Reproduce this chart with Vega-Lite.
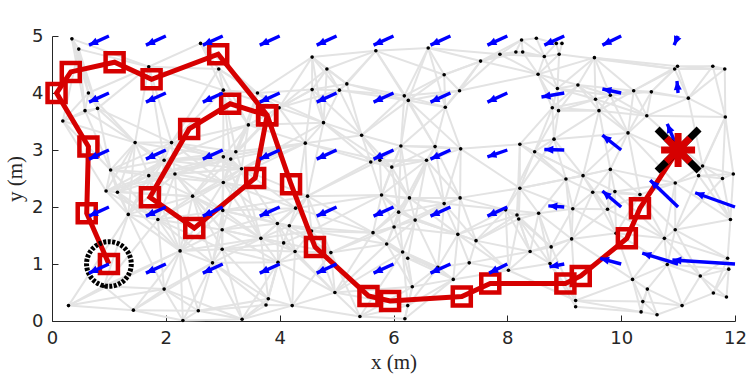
{
"$schema": "https://vega.github.io/schema/vega-lite/v6.json",
"width": 683, "height": 285,
"autosize": {"type": "none"},
"padding": {"left": 52, "top": 36, "right": 12, "bottom": 53},
"background": "white",
"config": {"view": {"stroke": null}},
"datasets": {
"nodes": [
{"id":0,"x":0.35,"y":4.95,"nb":[1,2,3,4,14]},
{"id":1,"x":0.47,"y":4.77,"nb":[2,3,4,5,14]},
{"id":2,"x":0.64,"y":4.0,"nb":[3,4,5,6,14]},
{"id":3,"x":0.58,"y":3.69,"nb":[4,5,6,7]},
{"id":4,"x":0.80,"y":3.73,"nb":[5,6,7,14,18]},
{"id":5,"x":0.19,"y":3.51,"nb":[6,7,8]},
{"id":6,"x":1.46,"y":3.13,"nb":[7,8,9,10,14,15,16,17,18,22]},
{"id":7,"x":1.03,"y":2.65,"nb":[8,9,10,15,16,17,18,23]},
{"id":8,"x":0.95,"y":2.28,"nb":[9,10,15,16,17,23,24]},
{"id":9,"x":1.15,"y":2.26,"nb":[10,15,16,17,23,24,25]},
{"id":10,"x":1.34,"y":1.87,"nb":[11,15,16,17,23,24,25,30]},
{"id":11,"x":0.91,"y":0.61,"nb":[12,13,23,25,30]},
{"id":12,"x":0.29,"y":0.27,"nb":[13,30,25,10]},
{"id":13,"x":1.43,"y":0.19,"nb":[25,26,30,31,32]},
{"id":14,"x":1.70,"y":4.46,"nb":[16,18,19,20,21]},
{"id":15,"x":1.70,"y":2.55,"nb":[16,17,18,22,23,24,25,33,34,36]},
{"id":16,"x":1.97,"y":2.82,"nb":[17,18,22,23,24,33,34,35,36,37]},
{"id":17,"x":2.16,"y":2.58,"nb":[18,22,23,24,25,27,29,33,34,35,36]},
{"id":18,"x":2.10,"y":3.13,"nb":[20,21,22,33,34,35,36,37]},
{"id":19,"x":2.61,"y":4.87,"nb":[20,21,38]},
{"id":20,"x":2.93,"y":4.42,"nb":[21,37,38,39]},
{"id":21,"x":3.01,"y":4.05,"nb":[22,34,35,37,38,39]},
{"id":22,"x":3.01,"y":2.88,"nb":[24,27,29,33,34,35,36,37,41,54]},
{"id":23,"x":1.86,"y":1.78,"nb":[24,25,26,27,28,29,30,33]},
{"id":24,"x":2.47,"y":2.19,"nb":[25,26,27,28,29,33,34,36,54]},
{"id":25,"x":2.25,"y":1.23,"nb":[26,27,28,29,30,31,32,33,54]},
{"id":26,"x":2.82,"y":1.02,"nb":[27,28,29,30,31,32,53,54,58,64,65]},
{"id":27,"x":2.99,"y":1.60,"nb":[28,29,33,36,54,55,57,58,60]},
{"id":28,"x":2.99,"y":1.26,"nb":[29,53,54,57,58,59,64]},
{"id":29,"x":3.0,"y":1.94,"nb":[33,36,40,54,55,56,60]},
{"id":30,"x":1.97,"y":0.56,"nb":[31,32,53]},
{"id":31,"x":2.30,"y":0.01,"nb":[32,53]},
{"id":32,"x":2.57,"y":0.18,"nb":[53,64,65]},
{"id":33,"x":3.01,"y":2.43,"nb":[34,35,36,37,40,41,54,55,60]},
{"id":34,"x":3.14,"y":2.84,"nb":[35,36,37,39,41]},
{"id":35,"x":3.23,"y":2.97,"nb":[36,37,38,39,41]},
{"id":36,"x":3.33,"y":2.67,"nb":[37,40,41,47,54,55,60]},
{"id":37,"x":3.45,"y":3.44,"nb":[38,39,41,44,47]},
{"id":38,"x":3.61,"y":4.0,"nb":[39,42,44,47]},
{"id":39,"x":3.99,"y":3.74,"nb":[41,42,43,44,45,47]},
{"id":40,"x":4.49,"y":2.19,"nb":[41,47,49,51,55,56,60,61,62,68,71]},
{"id":41,"x":4.45,"y":3.12,"nb":[44,47,48,49,51,60]},
{"id":42,"x":4.57,"y":4.63,"nb":[43,44,45,46,47,50]},
{"id":43,"x":4.83,"y":4.42,"nb":[44,45,46,47,50]},
{"id":44,"x":4.57,"y":4.06,"nb":[45,46,47,48]},
{"id":45,"x":5.05,"y":4.05,"nb":[46,47,48,50,75,76]},
{"id":46,"x":5.18,"y":4.16,"nb":[48,50,75,76]},
{"id":47,"x":4.77,"y":3.48,"nb":[48,49,51]},
{"id":48,"x":5.44,"y":3.26,"nb":[49,51,52,75,76,93]},
{"id":49,"x":5.60,"y":2.79,"nb":[51,52,71,93,96]},
{"id":50,"x":5.69,"y":4.74,"nb":[72,73,75,76]},
{"id":51,"x":5.76,"y":2.82,"nb":[52,71,93,96,100]},
{"id":52,"x":5.97,"y":2.70,"nb":[71,93,94,96,100,102]},
{"id":53,"x":3.34,"y":0.03,"nb":[58,64,65,66]},
{"id":54,"x":3.67,"y":1.45,"nb":[55,56,57,58,59,60,61,64]},
{"id":55,"x":3.96,"y":1.71,"nb":[56,57,58,59,60,61,62]},
{"id":56,"x":4.17,"y":1.67,"nb":[57,59,60,61,62,68]},
{"id":57,"x":4.07,"y":1.37,"nb":[58,59,61,62,63,64]},
{"id":58,"x":3.97,"y":1.03,"nb":[59,62,63,64,65,66]},
{"id":59,"x":4.27,"y":1.22,"nb":[61,62,63,66]},
{"id":60,"x":4.28,"y":1.98,"nb":[61,68,71]},
{"id":61,"x":4.56,"y":1.58,"nb":[62,63,68,69,71]},
{"id":62,"x":4.90,"y":1.20,"nb":[63,66,67,68,69,70]},
{"id":63,"x":4.97,"y":0.50,"nb":[66,67,68,69,107,112,113]},
{"id":64,"x":3.80,"y":0.39,"nb":[65,66]},
{"id":65,"x":3.76,"y":0.28,"nb":[66]},
{"id":66,"x":4.22,"y":0.27,"nb":[67]},
{"id":67,"x":5.41,"y":0.08,"nb":[107,112,113,114]},
{"id":68,"x":5.64,"y":1.55,"nb":[69,70,71,100,102,103,107,108]},
{"id":69,"x":5.88,"y":1.35,"nb":[70,102,103,107,108,110,112]},
{"id":70,"x":6.01,"y":1.65,"nb":[71,100,102,103,104,105,107]},
{"id":71,"x":5.79,"y":2.21,"nb":[93,96,100,102,103,104]},
{"id":72,"x":6.61,"y":4.79,"nb":[73,75,76,77,78,79]},
{"id":73,"x":6.89,"y":4.32,"nb":[74,75,76,77,78,79]},
{"id":74,"x":7.16,"y":4.04,"nb":[75,76,77,78,79,88]},
{"id":75,"x":6.19,"y":3.95,"nb":[76,77,93,94]},
{"id":76,"x":6.26,"y":3.87,"nb":[77,93,94,95]},
{"id":77,"x":6.91,"y":3.75,"nb":[78,93,94,95]},
{"id":78,"x":7.53,"y":4.56,"nb":[79,80,81,82,88]},
{"id":79,"x":7.87,"y":4.68,"nb":[80,81,82,86,88]},
{"id":80,"x":8.15,"y":4.72,"nb":[81,82,86]},
{"id":81,"x":8.27,"y":4.72,"nb":[82,86,88]},
{"id":82,"x":8.25,"y":4.93,"nb":[83,86]},
{"id":83,"x":8.51,"y":4.96,"nb":[84,86]},
{"id":84,"x":8.86,"y":4.87,"nb":[85,86,87]},
{"id":85,"x":8.96,"y":4.87,"nb":[87]},
{"id":86,"x":8.65,"y":4.64,"nb":[87,88,89]},
{"id":87,"x":8.91,"y":4.68,"nb":[88,89,132]},
{"id":88,"x":8.54,"y":4.33,"nb":[89,90,91,123,124]},
{"id":89,"x":8.88,"y":4.08,"nb":[90,91,123,124,125,126]},
{"id":90,"x":8.79,"y":3.74,"nb":[91,92,97,98,124,125,127]},
{"id":91,"x":8.90,"y":3.69,"nb":[92,98,124,125,127]},
{"id":92,"x":8.82,"y":3.19,"nb":[97,98,99,127,137,139,140]},
{"id":93,"x":6.13,"y":3.07,"nb":[94,95,96,100,102]},
{"id":94,"x":6.73,"y":3.06,"nb":[95,96,100,101,104]},
{"id":95,"x":7.18,"y":3.02,"nb":[96,97,99,101,104]},
{"id":96,"x":6.58,"y":2.82,"nb":[100,101,102,103,104]},
{"id":97,"x":8.22,"y":3.10,"nb":[98,99,116,139,140]},
{"id":98,"x":8.48,"y":2.97,"nb":[99,115,139,140]},
{"id":99,"x":8.22,"y":2.33,"nb":[101,115,116,117,118,139,140,150]},
{"id":100,"x":6.28,"y":2.16,"nb":[101,102,103,104,105]},
{"id":101,"x":7.17,"y":2.16,"nb":[103,104,105,106,115]},
{"id":102,"x":6.09,"y":1.91,"nb":[103,104,105,107]},
{"id":103,"x":6.38,"y":1.77,"nb":[104,105,106,107,108,110]},
{"id":104,"x":6.89,"y":2.06,"nb":[105,106,110,115]},
{"id":105,"x":7.13,"y":1.52,"nb":[106,109,110,111,115,116,122]},
{"id":106,"x":7.45,"y":1.41,"nb":[109,115,116,117,119,122]},
{"id":107,"x":6.16,"y":1.21,"nb":[108,110,111,112,113]},
{"id":108,"x":6.25,"y":1.10,"nb":[110,111,112]},
{"id":109,"x":7.33,"y":1.02,"nb":[110,111,119,122]},
{"id":110,"x":6.78,"y":0.94,"nb":[111,112,113]},
{"id":111,"x":7.05,"y":0.73,"nb":[112,113,114,122]},
{"id":112,"x":6.33,"y":0.60,"nb":[113,114]},
{"id":113,"x":6.25,"y":0.27,"nb":[114]},
{"id":114,"x":6.20,"y":0.04,"nb":[]},
{"id":115,"x":7.97,"y":1.95,"nb":[116,117,118,119,122]},
{"id":116,"x":8.17,"y":1.86,"nb":[117,118,119,120]},
{"id":117,"x":8.20,"y":1.79,"nb":[118,119,120,121,122]},
{"id":118,"x":8.55,"y":1.89,"nb":[119,120,121,140,149,150]},
{"id":119,"x":8.40,"y":1.22,"nb":[120,121,122,149]},
{"id":120,"x":8.77,"y":1.30,"nb":[121,149,150,153]},
{"id":121,"x":8.75,"y":1.01,"nb":[122,149,153,154]},
{"id":122,"x":8.02,"y":0.89,"nb":[153]},
{"id":123,"x":9.53,"y":4.62,"nb":[124,125,126,128,132,133]},
{"id":124,"x":9.24,"y":4.14,"nb":[125,126,127,128]},
{"id":125,"x":9.55,"y":3.89,"nb":[126,127,128,130,137]},
{"id":126,"x":9.81,"y":3.96,"nb":[127,128,129,130,137]},
{"id":127,"x":9.61,"y":3.69,"nb":[128,130,137,138,139]},
{"id":128,"x":10.22,"y":4.04,"nb":[129,130,131,132,133,137]},
{"id":129,"x":10.53,"y":4.02,"nb":[130,131,132,133,137]},
{"id":130,"x":10.45,"y":3.60,"nb":[131,136,137,141]},
{"id":131,"x":11.18,"y":3.91,"nb":[132,133,134,135,136,141]},
{"id":132,"x":10.94,"y":4.42,"nb":[133,134,135]},
{"id":133,"x":10.99,"y":4.47,"nb":[134]},
{"id":134,"x":11.61,"y":4.47,"nb":[135,136]},
{"id":135,"x":11.82,"y":4.42,"nb":[136]},
{"id":136,"x":11.83,"y":3.58,"nb":[141,142,143,144]},
{"id":137,"x":10.12,"y":3.30,"nb":[138,139,141,147,148]},
{"id":138,"x":9.81,"y":2.66,"nb":[139,140,145,146,147,148,151]},
{"id":139,"x":9.33,"y":2.55,"nb":[140,145,146,150,151]},
{"id":140,"x":9.03,"y":2.49,"nb":[145,149,150]},
{"id":141,"x":11.43,"y":2.72,"nb":[142,143,144,148,168]},
{"id":142,"x":11.36,"y":2.55,"nb":[143,144,148,167,168]},
{"id":143,"x":11.78,"y":2.50,"nb":[144,167,168]},
{"id":144,"x":11.97,"y":2.58,"nb":[168]},
{"id":145,"x":9.50,"y":2.26,"nb":[146,147,149,150,151,169]},
{"id":146,"x":9.89,"y":2.27,"nb":[147,148,151,166,169]},
{"id":147,"x":10.33,"y":2.22,"nb":[148,151,166,167,169]},
{"id":148,"x":10.95,"y":2.42,"nb":[166,167,168]},
{"id":149,"x":9.13,"y":1.44,"nb":[150,151,152,153,169]},
{"id":150,"x":9.15,"y":1.97,"nb":[151,169]},
{"id":151,"x":9.76,"y":1.96,"nb":[166,169]},
{"id":152,"x":10.20,"y":0.73,"nb":[153,155,156,157,165,166,169]},
{"id":153,"x":9.20,"y":0.36,"nb":[154,156,157]},
{"id":154,"x":9.20,"y":0.25,"nb":[157]},
{"id":155,"x":10.46,"y":0.56,"nb":[156,157,158,159,165]},
{"id":156,"x":10.38,"y":0.34,"nb":[157,158,159]},
{"id":157,"x":10.35,"y":0.16,"nb":[158]},
{"id":158,"x":10.63,"y":0.11,"nb":[159]},
{"id":159,"x":11.07,"y":0.27,"nb":[160,164,165]},
{"id":160,"x":11.62,"y":0.49,"nb":[161,162,163,164]},
{"id":161,"x":11.85,"y":0.42,"nb":[163,164]},
{"id":162,"x":11.87,"y":1.10,"nb":[163,164,166,167,168]},
{"id":163,"x":11.89,"y":0.91,"nb":[164,165]},
{"id":164,"x":11.39,"y":0.79,"nb":[165,166,167]},
{"id":165,"x":10.81,"y":0.99,"nb":[166,167,169]},
{"id":166,"x":10.76,"y":1.45,"nb":[167,169]},
{"id":167,"x":10.95,"y":1.60,"nb":[168]},
{"id":168,"x":11.92,"y":1.78,"nb":[]},
{"id":169,"x":9.91,"y":1.54,"nb":[]}
],
"path": [
{"o":1,"x":1.0,"y":1.0},{"o":2,"x":0.61,"y":1.89},{"o":3,"x":0.64,"y":3.06},{"o":4,"x":0.08,"y":4.0},
{"o":5,"x":0.33,"y":4.37},{"o":6,"x":1.10,"y":4.54},{"o":7,"x":1.75,"y":4.24},{"o":8,"x":2.92,"y":4.68},
{"o":9,"x":3.78,"y":3.61},{"o":10,"x":3.57,"y":2.51},{"o":11,"x":2.50,"y":1.63},{"o":12,"x":1.72,"y":2.17},
{"o":13,"x":2.41,"y":3.37},{"o":14,"x":3.13,"y":3.81},{"o":15,"x":3.78,"y":3.61},{"o":16,"x":4.20,"y":2.40},
{"o":17,"x":4.62,"y":1.30},{"o":18,"x":5.56,"y":0.44},{"o":19,"x":5.94,"y":0.35},{"o":20,"x":7.20,"y":0.43},
{"o":21,"x":7.70,"y":0.66},{"o":22,"x":9.02,"y":0.66},{"o":23,"x":9.29,"y":0.79},{"o":24,"x":10.10,"y":1.45},
{"o":25,"x":10.33,"y":1.98},{"o":26,"x":11.0,"y":3.0}
],
"arrows": [
{"tx":1,"ty":5,"x":0.65,"y":4.84},{"tx":2,"ty":5,"x":1.65,"y":4.84},{"tx":3,"ty":5,"x":2.65,"y":4.84},{"tx":4,"ty":5,"x":3.65,"y":4.84},{"tx":5,"ty":5,"x":4.65,"y":4.84},{"tx":6,"ty":5,"x":5.65,"y":4.84},{"tx":7,"ty":5,"x":6.65,"y":4.84},{"tx":8,"ty":5,"x":7.65,"y":4.84},{"tx":9,"ty":5,"x":8.65,"y":4.84},{"tx":10,"ty":5,"x":9.67,"y":4.84},{"tx":11,"ty":5,"x":10.93,"y":4.84},
{"tx":1,"ty":4,"x":0.65,"y":3.84},{"tx":2,"ty":4,"x":1.65,"y":3.84},{"tx":3,"ty":4,"x":2.65,"y":3.84},{"tx":4,"ty":4,"x":3.65,"y":3.84},{"tx":5,"ty":4,"x":4.65,"y":3.84},{"tx":6,"ty":4,"x":5.65,"y":3.84},{"tx":7,"ty":4,"x":6.65,"y":3.84},{"tx":8,"ty":4,"x":7.65,"y":3.84},{"tx":9,"ty":4,"x":8.60,"y":3.93},{"tx":10,"ty":4,"x":9.67,"y":4.07},{"tx":11,"ty":4,"x":10.98,"y":4.21},
{"tx":1,"ty":3,"x":0.65,"y":2.84},{"tx":2,"ty":3,"x":1.65,"y":2.84},{"tx":3,"ty":3,"x":2.65,"y":2.84},{"tx":4,"ty":3,"x":3.65,"y":2.84},{"tx":5,"ty":3,"x":4.65,"y":2.84},{"tx":6,"ty":3,"x":5.65,"y":2.84},{"tx":7,"ty":3,"x":6.65,"y":2.84},{"tx":8,"ty":3,"x":7.65,"y":2.88},{"tx":9,"ty":3,"x":8.65,"y":3.01},{"tx":10,"ty":3,"x":9.67,"y":3.26},{"tx":11,"ty":3,"x":10.81,"y":3.46},
{"tx":1,"ty":2,"x":0.65,"y":1.84},{"tx":2,"ty":2,"x":1.65,"y":1.84},{"tx":3,"ty":2,"x":2.65,"y":1.84},{"tx":4,"ty":2,"x":3.65,"y":1.84},{"tx":5,"ty":2,"x":4.65,"y":1.84},{"tx":6,"ty":2,"x":5.65,"y":1.84},{"tx":7,"ty":2,"x":6.65,"y":1.84},{"tx":8,"ty":2,"x":7.65,"y":1.84},{"tx":9,"ty":2,"x":8.72,"y":2.02},{"tx":10,"ty":2,"x":9.67,"y":2.28},{"tx":11,"ty":2,"x":10.51,"y":2.47},{"tx":12,"ty":2,"x":11.30,"y":2.25},
{"tx":1,"ty":1,"x":0.65,"y":0.84},{"tx":2,"ty":1,"x":1.65,"y":0.84},{"tx":3,"ty":1,"x":2.65,"y":0.84},{"tx":4,"ty":1,"x":3.65,"y":0.84},{"tx":5,"ty":1,"x":4.65,"y":0.84},{"tx":6,"ty":1,"x":5.65,"y":0.84},{"tx":7,"ty":1,"x":6.65,"y":0.84},{"tx":8,"ty":1,"x":7.68,"y":0.84},{"tx":9,"ty":1,"x":8.74,"y":0.95},{"tx":10,"ty":1,"x":9.63,"y":1.10},{"tx":11,"ty":1,"x":10.37,"y":1.19},{"tx":12,"ty":1,"x":10.90,"y":1.07}
],
"start": [{"x":1,"y":1}],
"goal": [{"x":11,"y":3}]
},
"encoding": {
"x": {"field":"x","type":"quantitative","scale":{"domain":[0,12],"nice":false,"zero":false},
 "axis":{"title":"x (m)","values":[0,2,4,6,8,10,12],"grid":false,"tickSize":-6,"labelPadding":14,"labelFlush":false,"labelOverlap":false,
 "domainColor":"#262626","tickColor":"#262626","labelColor":"#262626","labelFont":"DejaVu Sans","labelFontSize":18,
 "titleFont":"Liberation Serif","titleFontSize":21,"titleFontWeight":"normal","titleColor":"#262626","titleBaseline":"alphabetic","titleY":47}},
"y": {"field":"y","type":"quantitative","scale":{"domain":[0,5],"nice":false,"zero":false},
 "axis":{"title":"y (m)","values":[0,1,2,3,4,5],"grid":false,"tickSize":-6,"labelPadding":15,"labelOverlap":false,"labelFlush":false,
 "domainColor":"#262626","tickColor":"#262626","labelColor":"#262626","labelFont":"DejaVu Sans","labelFontSize":18,
 "titleFont":"Liberation Serif","titleFontSize":21,"titleFontWeight":"normal","titleColor":"#262626","titleX":-27,"titleY":142.5,"titleAngle":-90,"titleBaseline":"bottom"}}
},
"layer": [
{"data":{"name":"nodes"},
 "transform":[{"flatten":["nb"]},{"lookup":"nb","from":{"data":{"name":"nodes"},"key":"id","fields":["x","y"]},"as":["x2","y2"]}],
 "mark":{"type":"rule","color":"#e3e3e3","strokeWidth":2},
 "encoding":{"x2":{"field":"x2"},"y2":{"field":"y2"}}},
{"data":{"name":"nodes"},"mark":{"type":"circle","color":"black","size":13,"opacity":1}},
{"data":{"name":"path"},"mark":{"type":"line","color":"#d60000","strokeWidth":5},
 "encoding":{"order":{"field":"o","type":"quantitative"}}},
{"data":{"name":"path"},"transform":[{"filter":"datum.o < 26"}],
 "mark":{"type":"point","shape":"square","filled":false,"color":"#d60000","strokeWidth":4.5,"size":324,"opacity":1}},
{"data":{"name":"start"},"mark":{"type":"point","shape":"circle","filled":false,"color":"black","strokeWidth":5,"size":2000,"strokeDash":[3,1.5],"opacity":1}},
{"data":{"name":"arrows"},"mark":{"type":"rule","color":"#0000ff","strokeWidth":3.4},
 "encoding":{"x2":{"field":"tx"},"y2":{"field":"ty"}}},
{"data":{"name":"arrows"},
 "transform":[{"calculate":"atan2(datum.x - datum.tx, datum.y - datum.ty) * 180 / PI","as":"ang"}],
 "mark":{"type":"point","shape":"M0,0L-0.8,1.8L0.8,1.8Z","filled":true,"color":"#0000ff","size":100,"opacity":1},
 "encoding":{"angle":{"field":"ang","type":"quantitative","scale":null}}},
{"data":{"name":"goal"},"mark":{"type":"point","shape":"M-1,-1L1,1M-1,1L1,-1","filled":false,"color":"black","strokeWidth":7,"size":1764,"opacity":1}},
{"data":{"name":"goal"},"mark":{"type":"point","shape":"M-1,0L1,0M0,-1L0,1M-0.7,-0.7L0.7,0.7M-0.7,0.7L0.7,-0.7","filled":false,"color":"#d60000","strokeWidth":7,"size":1156,"opacity":1}}
]
}
